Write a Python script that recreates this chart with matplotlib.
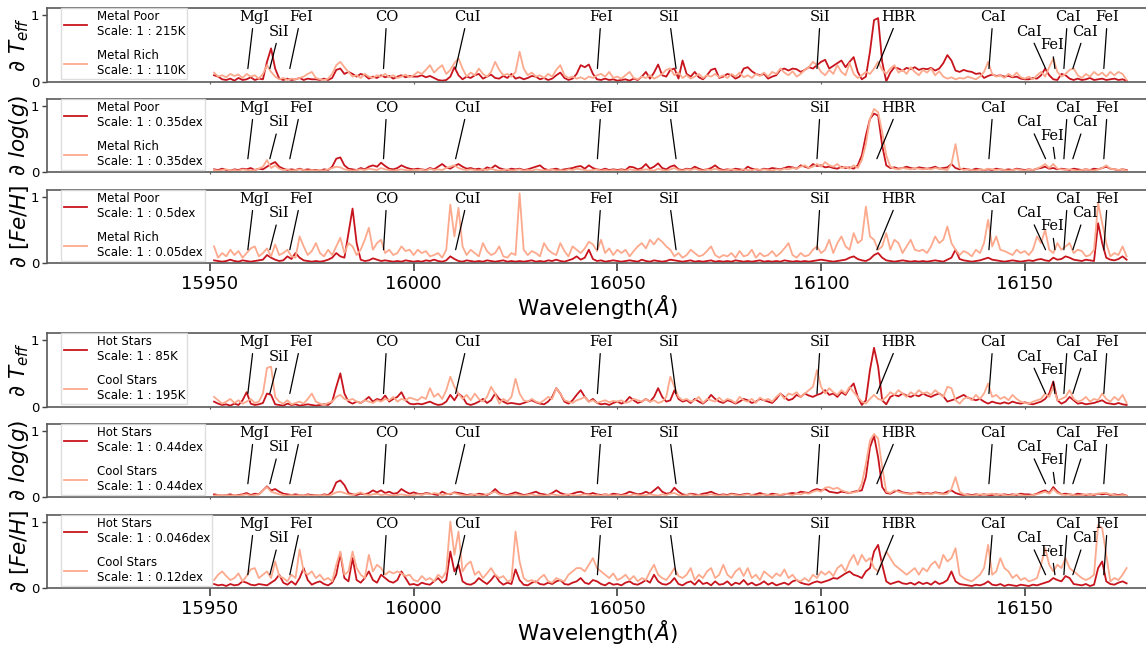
import numpy as np
import matplotlib
matplotlib.use("Agg")
import matplotlib.pyplot as plt

# wavelength grid (Angstrom), 1 A steps
wavelength = np.arange(15951, 16176)

# normalised derivative spectra, in percent of the panel scale
mp_teff = [10, 8, 4, 3, 5,  2, 6, 3, 4, 7,  3, 5, 4, 30, 50,  20, 5, 3, 5, 3,  4, 6, 3, 5, 4,
           4, 3, 5, 3, 6,  18, 20, 12, 15, 12,  8, 12, 10, 5, 8,  6, 10, 7, 9, 5,  8, 10, 7, 9, 8,
           8, 10, 7, 9, 6,  3, 2, 3, 8, 22,  10, 4, 8, 6, 10,  12, 5, 8, 11, 6,  5, 9, 6, 12, 5,
           7, 4, 6, 9, 8,  4, 6, 3, 5, 10,  14, 6, 3, 5, 12,  25, 22, 26, 12, 4,  3, 5, 3, 4, 2,
           3, 4, 2, 5, 3,  8, 15, 5, 14, 26,  10, 8, 18, 20, 5,  32, 12, 8, 15, 7,  4, 10, 18, 20, 6,
           8, 12, 10, 5, 8,  20, 22, 16, 12, 10,  12, 5, 8, 10, 18,  20, 17, 20, 19, 15,  18, 22, 20, 25, 30,
           33, 20, 24, 28, 32,  22, 30, 37, 15, 4,  8, 45, 92, 95, 30,  1, 14, 22, 20, 17,  21, 19, 22, 18, 20,
           19, 21, 17, 20, 28,  40, 32, 17, 15, 18,  16, 15, 12, 13, 6,  9, 11, 9, 10, 8,  9, 7, 8, 5, 4,
           4, 6, 5, 10, 20,  10, 4, 3, 12, 10,  5, 3, 5, 3, 4,  6, 3, 4, 5, 3,  4, 5, 3, 4, 2]
mr_teff = [14, 8, 10, 7, 12,  9, 11, 6, 12, 8,  10, 5, 12, 25, 15,  8, 4, 6, 3, 5,  4, 6, 8, 12, 15,
           6, 4, 3, 5, 12,  25, 30, 22, 15, 8,  10, 6, 12, 8, 6,  10, 8, 12, 7, 10,  6, 8, 11, 7, 10,
           15, 12, 18, 25, 14,  20, 25, 12, 18, 28,  35, 20, 8, 14, 10,  20, 12, 8, 15, 30,  18, 10, 12, 8, 15,
           45, 20, 10, 14, 8,  10, 6, 12, 8, 18,  25, 10, 6, 8, 5,  7, 4, 8, 6, 10,  12, 8, 15, 6, 8,
           5, 10, 15, 6, 4,  8, 6, 10, 5, 8,  12, 18, 20, 10, 14,  6, 10, 5, 8, 12,  6, 10, 8, 12, 7,
           10, 6, 12, 8, 14,  7, 10, 6, 12, 9,  14, 8, 15, 12, 20,  14, 10, 16, 8, 12,  18, 22, 30, 25, 15,
           10, 18, 12, 25, 15,  10, 28, 12, 6, 10,  15, 12, 20, 30, 18,  12, 20, 25, 14, 18,  12, 22, 15, 10, 18,
           14, 20, 10, 16, 8,  5, 7, 4, 6, 5,  8, 6, 4, 8, 15,  30, 12, 8, 10, 6,  12, 8, 14, 7, 5,
           8, 4, 10, 15, 8,  22, 35, 15, 8, 12,  18, 20, 10, 6, 12,  8, 15, 10, 14, 8,  15, 10, 15, 12, 3]
mp_logg = [4, 3, 5, 3, 2,  4, 3, 5, 4, 6,  3, 5, 4, 8, 12,  15, 8, 5, 3, 4,  3, 5, 3, 4, 3,
           3, 2, 4, 3, 8,  20, 22, 10, 5, 4,  3, 6, 4, 8, 10,  8, 14, 9, 5, 4,  6, 10, 7, 5, 4,
           5, 4, 3, 6, 4,  8, 12, 7, 5, 9,  12, 8, 5, 6, 4,  5, 3, 7, 5, 10,  6, 4, 3, 5, 4,
           5, 3, 4, 6, 8,  10, 5, 3, 4, 5,  3, 4, 5, 6, 8,  9, 5, 10, 6, 4,  3, 5, 3, 4, 3,
           4, 3, 8, 7, 4,  6, 12, 5, 8, 13,  6, 4, 8, 10, 4,  3, 5, 4, 8, 5,  3, 4, 6, 10, 5,
           3, 4, 3, 5, 4,  3, 8, 5, 4, 3,  5, 4, 6, 5, 4,  6, 8, 7, 5, 10,  8, 6, 12, 9, 10,
           7, 8, 6, 5, 8,  6, 7, 5, 10, 25,  55, 80, 88, 85, 40,  10, 6, 7, 5, 6,  8, 6, 5, 7, 6,
           5, 6, 8, 5, 6,  7, 12, 6, 4, 5,  4, 3, 5, 4, 3,  4, 3, 5, 4, 3,  4, 3, 5, 4, 3,
           4, 3, 5, 6, 8,  5, 6, 4, 5, 4,  3, 5, 4, 3, 4,  3, 5, 4, 6, 8,  5, 4, 3, 4, 3]
mr_logg = [3, 2, 3, 4, 2,  3, 2, 4, 3, 2,  3, 5, 8, 18, 6,  10, 5, 3, 4, 2,  3, 4, 3, 2, 3,
           2, 3, 2, 4, 6,  8, 7, 4, 3, 2,  3, 4, 3, 5, 4,  3, 6, 4, 3, 2,  3, 4, 3, 2, 3,
           3, 4, 2, 5, 3,  4, 3, 6, 8, 10,  6, 4, 3, 4, 3,  2, 4, 3, 5, 3,  2, 3, 4, 2, 3,
           4, 2, 3, 2, 4,  3, 2, 3, 4, 2,  3, 2, 4, 3, 5,  4, 3, 2, 3, 4,  2, 3, 2, 3, 2,
           3, 2, 4, 3, 2,  3, 4, 3, 2, 5,  3, 2, 4, 6, 3,  2, 4, 3, 5, 3,  2, 4, 3, 5, 3,
           2, 3, 4, 3, 2,  4, 3, 2, 5, 3,  4, 3, 2, 4, 3,  5, 4, 6, 5, 8,  10, 6, 8, 12, 8,
           15, 10, 8, 12, 6,  8, 5, 10, 6, 18,  42, 80, 95, 90, 60,  25, 8, 5, 4, 6,  5, 4, 6, 5, 4,
           5, 4, 6, 5, 4,  3, 12, 42, 6, 3,  4, 3, 2, 4, 3,  5, 4, 3, 4, 3,  2, 3, 4, 3, 2,
           4, 3, 5, 8, 12,  6, 12, 5, 4, 3,  4, 3, 2, 3, 4,  3, 2, 4, 6, 10,  5, 4, 3, 4, 2]
mp_feh = [4, 3, 2, 3, 5,  3, 2, 4, 3, 2,  3, 4, 5, 12, 8,  5, 3, 4, 10, 6,  15, 8, 4, 3, 2,
          3, 2, 3, 5, 8,  15, 10, 8, 45, 82,  30, 5, 3, 4, 7,  5, 3, 4, 3, 2,  3, 2, 4, 3, 2,
          3, 2, 4, 3, 5,  3, 2, 4, 10, 6,  3, 2, 4, 3, 2,  3, 2, 4, 3, 2,  3, 4, 2, 3, 2,
          3, 2, 3, 4, 2,  3, 2, 4, 3, 5,  3, 2, 4, 6, 10,  5, 8, 20, 6, 3,  4, 2, 3, 4, 3,
          2, 3, 4, 3, 2,  5, 3, 2, 4, 3,  2, 3, 5, 4, 3,  2, 3, 4, 2, 3,  2, 3, 4, 2, 3,
          2, 3, 2, 4, 3,  2, 3, 2, 3, 4,  2, 3, 2, 3, 2,  4, 3, 2, 3, 2,  3, 2, 3, 4, 5,
          4, 3, 2, 3, 4,  5, 8, 10, 6, 4,  3, 6, 12, 15, 8,  4, 3, 2, 3, 4,  3, 2, 3, 2, 3,
          2, 3, 4, 3, 2,  5, 8, 20, 6, 4,  3, 2, 3, 4, 6,  8, 5, 4, 3, 2,  3, 4, 3, 2, 3,
          4, 3, 5, 6, 4,  3, 8, 5, 6, 10,  8, 5, 4, 3, 5,  4, 3, 60, 30, 8,  5, 4, 6, 10, 5]
mr_feh = [25, 8, 15, 10, 20,  12, 18, 8, 15, 22,  25, 10, 15, 22, 10,  28, 12, 15, 20, 10,  8, 40, 25, 12, 18,
          30, 15, 10, 20, 12,  25, 38, 15, 30, 25,  12, 20, 35, 53, 20,  30, 35, 15, 20, 12,  15, 25, 18, 20, 12,
          20, 15, 18, 10, 12,  15, 8, 20, 88, 40,  83, 25, 12, 20, 15,  10, 30, 18, 12, 15,  25, 10, 8, 15, 12,
          105, 20, 12, 18, 15,  10, 30, 20, 15, 12,  30, 18, 10, 25, 20,  15, 22, 32, 28, 18,  35, 15, 22, 12, 20,
          15, 20, 10, 18, 25,  30, 22, 35, 28, 37,  32, 25, 20, 10, 15,  8, 12, 20, 15, 10,  12, 18, 25, 12, 8,
          12, 10, 15, 8, 18,  10, 12, 20, 8, 15,  10, 12, 18, 10, 15,  22, 30, 12, 8, 15,  10, 12, 20, 25, 15,
          20, 35, 15, 30, 40,  25, 20, 45, 30, 35,  85, 40, 35, 20, 25,  45, 20, 35, 30, 15,  25, 35, 20, 18, 20,
          15, 25, 40, 30, 35,  55, 30, 20, 12, 18,  15, 10, 20, 15, 30,  65, 25, 40, 20, 18,  15, 12, 20, 15, 18,
          12, 20, 40, 30, 50,  20, 15, 30, 20, 25,  30, 15, 20, 18, 10,  12, 20, 90, 60, 30,  10, 15, 12, 25, 10]

hot_teff = [8, 5, 3, 4, 2,  5, 3, 10, 22, 5,  3, 4, 6, 20, 18,  4, 3, 2, 5, 3,  4, 2, 3, 4, 3,
            2, 3, 4, 3, 8,  30, 50, 20, 8, 5,  8, 6, 10, 15, 8,  12, 10, 17, 8, 12,  15, 22, 10, 5, 4,
            5, 4, 6, 8, 5,  3, 4, 8, 18, 10,  20, 15, 5, 3, 5,  8, 12, 6, 10, 20,  12, 8, 5, 6, 5,
            4, 6, 8, 10, 7,  5, 4, 8, 15, 28,  20, 8, 5, 10, 18,  25, 15, 8, 12, 6,  4, 5, 3, 6, 8,
            5, 8, 15, 10, 6,  8, 12, 8, 15, 28,  15, 8, 10, 25, 12,  8, 10, 6, 12, 8,  5, 10, 18, 12, 8,
            6, 10, 8, 5, 8,  12, 10, 6, 8, 12,  10, 8, 6, 12, 20,  15, 10, 12, 18, 15,  20, 17, 15, 18, 20,
            25, 18, 20, 15, 22,  18, 28, 35, 15, 3,  10, 55, 88, 60, 10,  4, 15, 18, 16, 20,  17, 15, 18, 16, 20,
            17, 15, 18, 20, 16,  8, 10, 12, 15, 18,  14, 12, 10, 12, 8,  5, 8, 6, 5, 7,  5, 8, 6, 5, 7,
            5, 4, 6, 8, 12,  20, 38, 10, 5, 8,  15, 10, 5, 6, 4,  5, 6, 8, 10, 6,  5, 4, 6, 4, 3]
cool_teff = [15, 10, 5, 8, 12,  6, 10, 5, 8, 12,  6, 8, 20, 58, 60,  15, 8, 5, 10, 4,  6, 8, 5, 12, 20,
             8, 5, 3, 6, 8,  15, 18, 12, 10, 12,  8, 6, 10, 8, 6,  10, 8, 12, 10, 15,  8, 12, 10, 14, 12,
             10, 15, 12, 28, 15,  20, 12, 25, 45, 30,  20, 12, 18, 10, 20,  12, 8, 15, 30, 20,  5, 12, 8, 15, 42,
             20, 10, 8, 12, 8,  6, 10, 15, 12, 28,  20, 10, 8, 6, 10,  12, 15, 8, 10, 6,  8, 10, 7, 9, 8,
             10, 6, 8, 12, 10,  8, 12, 8, 10, 6,  8, 15, 45, 30, 15,  10, 12, 8, 10, 15,  6, 12, 10, 8, 14,
             8, 12, 10, 6, 15,  10, 8, 12, 6, 14,  10, 12, 8, 15, 20,  12, 20, 18, 22, 15,  20, 25, 30, 55, 30,
             20, 28, 22, 18, 25,  20, 30, 22, 15, 8,  5, 12, 18, 12, 10,  15, 22, 18, 25, 20,  15, 22, 18, 25, 20,
             22, 18, 25, 20, 15,  30, 28, 10, 5, 12,  15, 10, 18, 12, 20,  35, 15, 18, 12, 15,  10, 18, 12, 8, 6,
             5, 8, 10, 12, 20,  15, 30, 10, 12, 15,  25, 12, 8, 10, 15,  8, 12, 10, 20, 12,  8, 15, 10, 18, 6]
hot_logg = [4, 3, 2, 3, 4,  2, 3, 4, 6, 3,  5, 4, 10, 16, 10,  12, 8, 5, 4, 3,  4, 3, 2, 4, 3,
            3, 2, 4, 3, 8,  22, 25, 18, 6, 4,  3, 5, 4, 6, 10,  7, 10, 6, 8, 5,  6, 12, 8, 5, 7,
            5, 4, 6, 5, 4,  3, 8, 5, 4, 7,  6, 5, 3, 4, 3,  5, 4, 3, 6, 12,  6, 4, 3, 5, 7,
            5, 3, 4, 6, 8,  5, 4, 3, 6, 10,  6, 4, 3, 5, 7,  8, 5, 4, 6, 4,  3, 4, 3, 5, 4,
            3, 5, 8, 6, 4,  5, 8, 5, 10, 15,  8, 5, 6, 14, 8,  4, 3, 5, 4, 3,  5, 6, 8, 5, 3,
            4, 3, 5, 4, 3,  4, 5, 3, 4, 6,  4, 3, 5, 4, 3,  4, 5, 6, 5, 8,  7, 6, 10, 12, 10,
            12, 8, 7, 6, 8,  7, 6, 8, 9, 10,  30, 75, 92, 60, 15,  6, 5, 8, 10, 7,  6, 5, 6, 7, 5,
            6, 5, 7, 6, 5,  8, 10, 6, 4, 3,  4, 3, 4, 3, 4,  3, 3, 4, 3, 4,  3, 4, 3, 5, 4,
            4, 3, 5, 8, 10,  6, 15, 8, 4, 5,  4, 3, 5, 4, 3,  4, 3, 5, 4, 5,  3, 4, 3, 4, 2]
cool_logg = [2, 3, 2, 3, 2,  3, 2, 3, 4, 2,  3, 4, 10, 15, 8,  6, 4, 3, 2, 3,  2, 3, 2, 3, 2,
             3, 2, 3, 2, 4,  7, 8, 6, 4, 3,  5, 7, 4, 3, 4,  5, 3, 4, 3, 2,  3, 4, 3, 2, 3,
             4, 3, 5, 4, 6,  5, 3, 4, 5, 6,  4, 3, 2, 3, 4,  3, 2, 4, 6, 8,  4, 3, 2, 3, 4,
             3, 2, 3, 4, 2,  3, 2, 3, 4, 3,  2, 3, 4, 3, 2,  3, 4, 3, 2, 3,  2, 4, 3, 2, 3,
             2, 3, 2, 4, 3,  2, 3, 4, 3, 2,  4, 3, 5, 6, 3,  2, 3, 4, 2, 3,  2, 3, 4, 3, 2,
             3, 2, 4, 3, 2,  3, 4, 3, 2, 3,  4, 3, 2, 4, 3,  5, 4, 3, 5, 4,  6, 5, 8, 10, 8,
             14, 15, 12, 14, 10,  8, 6, 7, 8, 20,  50, 85, 95, 88, 45,  8, 6, 10, 8, 6,  5, 4, 6, 5, 4,
             5, 4, 6, 5, 4,  5, 12, 30, 8, 4,  3, 2, 3, 4, 3,  4, 5, 3, 4, 3,  2, 3, 4, 3, 2,
             2, 3, 4, 6, 8,  5, 12, 6, 4, 3,  4, 3, 2, 3, 4,  3, 4, 5, 6, 6,  4, 3, 2, 3, 2]
hot_feh = [6, 4, 5, 3, 6,  4, 5, 10, 8, 5,  4, 6, 5, 4, 8,  12, 20, 8, 5, 10,  5, 15, 30, 12, 5,
           8, 10, 6, 4, 8,  20, 52, 15, 10, 45,  12, 8, 15, 25, 12,  8, 20, 15, 10, 8,  12, 25, 15, 5, 6,
           4, 8, 6, 5, 10,  15, 8, 12, 55, 25,  35, 10, 6, 5, 8,  15, 10, 6, 12, 20,  10, 5, 8, 6, 28,
           12, 5, 4, 8, 10,  6, 5, 8, 6, 10,  12, 6, 5, 8, 10,  15, 8, 6, 12, 10,  6, 4, 8, 5, 6,
           4, 8, 10, 6, 5,  8, 12, 8, 20, 10,  6, 5, 8, 15, 6,  4, 8, 10, 5, 12,  6, 8, 4, 10, 5,
           6, 10, 4, 8, 6,  12, 5, 8, 4, 6,  10, 5, 8, 4, 6,  8, 5, 10, 12, 8,  6, 5, 8, 10, 8,
           10, 12, 15, 14, 18,  22, 25, 20, 18, 15,  25, 30, 55, 65, 35,  10, 6, 8, 10, 7,  6, 8, 5, 9, 6,
           8, 5, 10, 6, 8,  12, 25, 10, 6, 5,  4, 3, 5, 4, 6,  10, 5, 4, 6, 3,  5, 4, 3, 5, 4,
           3, 5, 4, 6, 8,  10, 15, 12, 10, 18,  15, 6, 5, 4, 6,  3, 5, 30, 40, 10,  6, 5, 8, 10, 7]
cool_feh = [12, 20, 25, 18, 12,  15, 22, 10, 18, 28,  30, 15, 20, 25, 15,  40, 18, 15, 10, 20,  15, 58, 25, 20, 25,
            15, 20, 12, 15, 10,  35, 55, 20, 25, 55,  30, 20, 15, 50, 25,  35, 30, 20, 25, 22,  25, 22, 18, 20, 12,
            10, 18, 12, 15, 10,  20, 15, 25, 100, 50,  85, 25, 35, 40, 20,  25, 15, 22, 30, 20,  15, 18, 10, 12, 85,
            40, 15, 10, 12, 8,  15, 20, 10, 8, 15,  12, 10, 20, 25, 30,  30, 25, 35, 45, 30,  25, 20, 15, 22, 12,
            15, 20, 12, 18, 10,  15, 12, 25, 35, 20,  15, 12, 20, 30, 18,  15, 20, 30, 12, 20,  15, 25, 30, 15, 20,
            35, 20, 15, 25, 30,  18, 30, 15, 20, 12,  25, 20, 15, 22, 18,  28, 15, 20, 12, 10,  15, 10, 20, 15, 25,
            20, 25, 18, 30, 35,  25, 40, 50, 35, 50,  40, 45, 30, 25, 40,  55, 45, 35, 30, 25,  20, 25, 30, 20, 30,
            25, 35, 40, 30, 50,  40, 45, 60, 20, 15,  12, 10, 15, 20, 30,  65, 20, 25, 45, 30,  25, 15, 20, 12, 15,
            10, 12, 15, 35, 60,  35, 25, 35, 30, 45,  30, 25, 20, 15, 12,  15, 20, 95, 90, 50,  10, 15, 12, 20, 30]

# legend text per panel
group_names = [("Metal Poor", "Metal Rich"), ("Hot Stars", "Cool Stars")]
scales = [[("215K", "110K"), ("0.35dex", "0.35dex"), ("0.5dex", "0.05dex")],
          [("85K", "195K"), ("0.44dex", "0.44dex"), ("0.046dex", "0.12dex")]]
ylabels = [r"$\partial\ T_{eff}$", r"$\partial\ log(g)$", r"$\partial\ [Fe/H]$"]

# spectral line markers: label, line position, label position, label height
line_names = ["MgI", "SiI", "FeI", "CO", "CuI", "FeI", "SiI", "SiI", "HBR",
              "CaI", "CaI", "FeI", "CaI", "CaI", "FeI"]
line_wl = [15959.3, 15964.7, 15969.6, 15992.6, 16010.3, 16045.1, 16064.4, 16099.0,
           16113.7, 16141.2, 16155.1, 16157.4, 16159.6, 16161.8, 16169.4]
label_wl = [15960.8, 15967.0, 15972.3, 15993.4, 16013.2, 16046.0, 16062.7, 16099.8,
            16118.9, 16142.2, 16151.0, 16156.6, 16160.5, 16164.7, 16170.3]
label_y = [0.97, 0.75, 0.97, 0.97, 0.97, 0.97, 0.97, 0.97,
           0.97, 0.97, 0.75, 0.55, 0.97, 0.75, 0.97]

series = [[(mp_teff, mr_teff), (mp_logg, mr_logg), (mp_feh, mr_feh)],
          [(hot_teff, cool_teff), (hot_logg, cool_logg), (hot_feh, cool_feh)]]

dark_red = "#c8141d"
light_red = "#fca98d"

fig = plt.figure(figsize=(11.46, 6.45), dpi=100)
W, H = 1146.0, 645.0
panel_px = [[(8, 82), (99, 172), (190, 263)], [(333, 407), (424, 497), (515, 588)]]

for g in range(2):
    for p in range(3):
        top, bot = panel_px[g][p]
        ax = fig.add_axes([47 / W, 1 - bot / H, 1100 / W, (bot - top) / H])
        d_vals, l_vals = series[g][p]
        ax.plot(wavelength, np.array(d_vals) / 100.0, color=dark_red, lw=1.3,
                label=f"{group_names[g][0]}\nScale: 1 : {scales[g][p][0]}")
        ax.plot(wavelength, np.array(l_vals) / 100.0, color=light_red, lw=1.3,
                label=f"{group_names[g][1]}\nScale: 1 : {scales[g][p][1]}")

        for name, lw_, tx, ty in zip(line_names, line_wl, label_wl, label_y):
            ax.annotate(name, xy=(lw_, 0.2), xytext=(tx, ty), ha="center", va="center",
                        fontsize=10.5, family="DejaVu Serif", zorder=5,
                        arrowprops=dict(arrowstyle="-", color="black", lw=0.9,
                                        shrinkA=1.5, shrinkB=0))

        ax.set_xlim(15910, 16180)
        ax.set_ylim(0, 1.1)
        ax.set_yticks([0, 1])
        ax.set_xticks([15950, 16000, 16050, 16100, 16150])
        ax.tick_params(axis="y", labelsize=9.5, length=3.5, width=1, color="0.25", pad=2)
        for side in ["top", "bottom", "left"]:
            ax.spines[side].set_color("0.35")
            ax.spines[side].set_linewidth(1.2)
        ax.spines["right"].set_visible(False)
        ax.set_ylabel(ylabels[p], fontsize=15.5, labelpad=0)

        if p == 2:
            ax.tick_params(axis="x", labelsize=13, length=6, width=1.2, color="0.25", pad=3)
            ax.set_xlabel(r"Wavelength($\AA$)", fontsize=15.5, labelpad=0)
        else:
            ax.tick_params(axis="x", labelbottom=False, length=1.5, color="0.35")

        ax.legend(loc="upper left", bbox_to_anchor=(0.013, 1.0), borderaxespad=0,
                  fontsize=8.5, labelspacing=0.9, handlelength=2.0,
                  fancybox=False, framealpha=0.85, edgecolor="0.85",
                  borderpad=0.2)

fig.savefig("out.png", dpi=100)
